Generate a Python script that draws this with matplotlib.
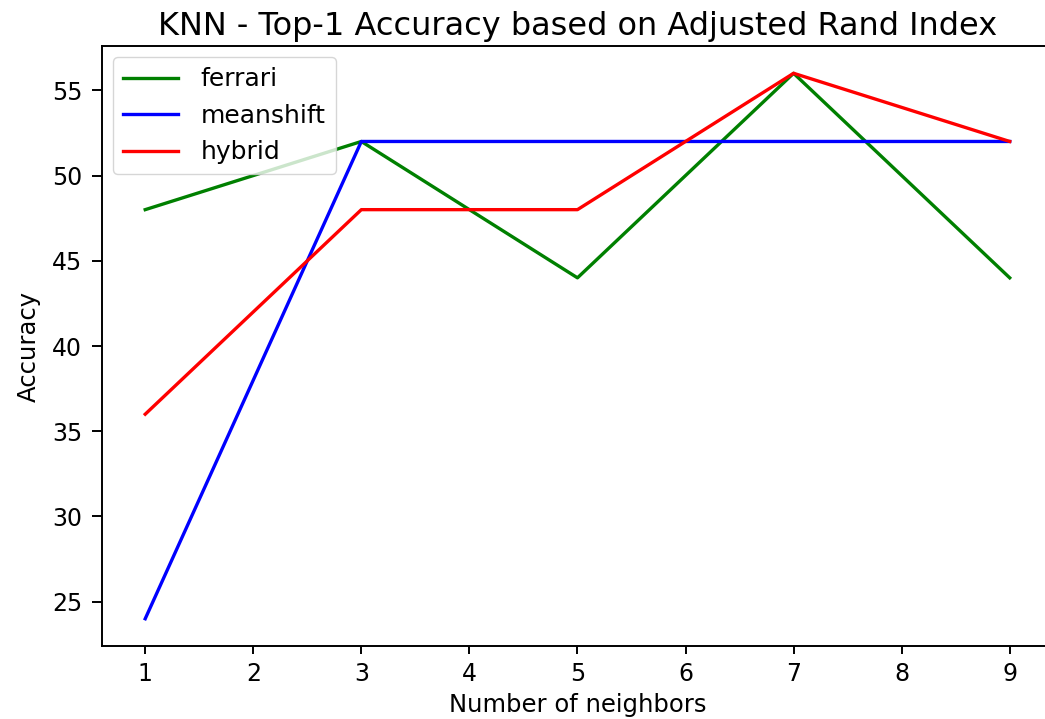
import matplotlib
matplotlib.use("Agg")
import matplotlib.pyplot as plt

neighbors = [1, 3, 5, 7, 9]
ferrari = [48, 52, 44, 56, 44]
meanshift = [24, 52, 52, 52, 52]
hybrid = [36, 48, 48, 56, 52]

fig = plt.figure(figsize=(10.45, 7.19), dpi=100)
ax = fig.add_axes([0.0976, 0.1015, 0.910, 0.8345])
ax.plot(neighbors, ferrari, color="green", lw=2.4, label="ferrari")
ax.plot(neighbors, meanshift, color="blue", lw=2.4, label="meanshift")
ax.plot(neighbors, hybrid, color="red", lw=2.4, label="hybrid")
ax.set_title("KNN - Top-1 Accuracy based on Adjusted Rand Index", fontsize=23, pad=8)
ax.set_xlabel("Number of neighbors", fontsize=17.5, labelpad=5)
ax.set_ylabel("Accuracy", fontsize=17.5, labelpad=8)
ax.tick_params(axis="both", labelsize=17, width=1.4)
ax.tick_params(axis="y", length=7.2, pad=7)
ax.tick_params(axis="x", length=6, pad=5.5)
for s in ax.spines.values():
    s.set_linewidth(1.4)
ax.legend(loc="upper left", fontsize=18, handlelength=2.2, handletextpad=0.9,
          borderaxespad=0.45)
fig.savefig("out.png", dpi=100)
